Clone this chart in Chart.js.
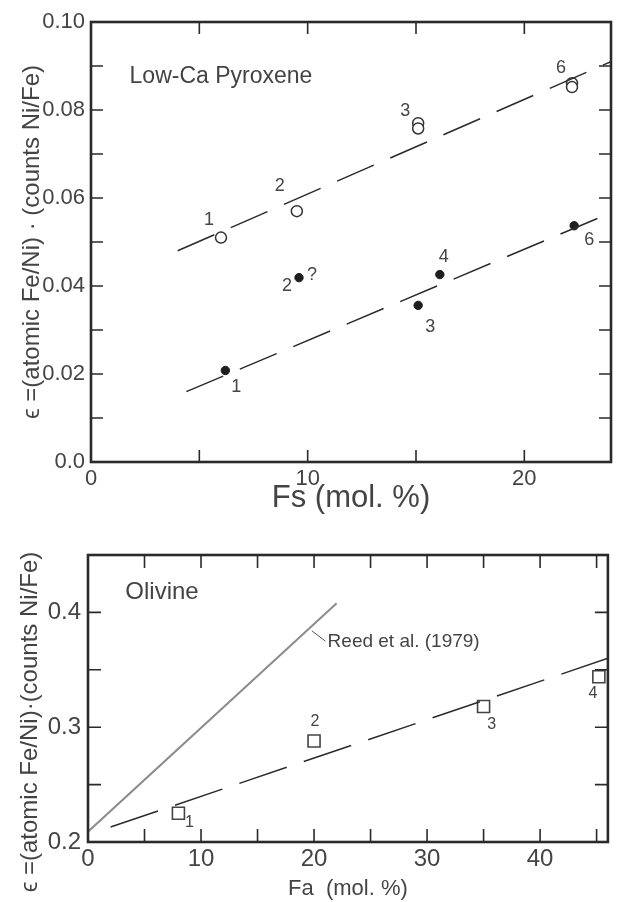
<!DOCTYPE html>
<html>
<head>
<meta charset="utf-8">
<script src="https://cdn.jsdelivr.net/npm/chart.js@4"></script>
<style>
  html, body { margin: 0; padding: 0; background: #fff; }
  #wrap { position: relative; width: 618px; height: 902px; }
  #c1 { position: absolute; left: 0; top: 0; }
  #c2 { position: absolute; left: 0; top: 530px; }
</style>
</head>
<body>
<div id="wrap">
  <canvas id="c1" width="618" height="530"></canvas>
  <canvas id="c2" width="618" height="372"></canvas>
</div>
<script>
// --- Low-Ca pyroxene (top panel) ---
var fsOpen = [6.0, 9.5, 15.1, 15.1, 22.2, 22.2];
var epsOpen = [0.051, 0.057, 0.077, 0.0758, 0.0861, 0.0852];
var openLabels = [['1'], ['2'], ['3'], [], ['6'], []];
var fsFilled = [6.2, 9.6, 15.1, 16.1, 22.3];
var epsFilled = [0.0208, 0.0419, 0.0356, 0.0426, 0.0537];
var filledLabels = [['1'], ['2', '?'], ['3'], ['4'], ['6']];
var upperFitFs = [4.0, 24];
var upperFitEps = [0.048, 0.091];
var lowerFitFs = [4.4, 23.5];
var lowerFitEps = [0.016, 0.0556];
var fsTickValues = [0, 5, 10, 15, 20];
var fsTickLabels = ['0', '', '10', '', '20'];
var pyxTickValues = [0, 0.01, 0.02, 0.03, 0.04, 0.05, 0.06, 0.07, 0.08, 0.09, 0.10];
var pyxTickLabels = ['0.0', '', '0.02', '', '0.04', '', '0.06', '', '0.08', '', '0.10'];

// --- Olivine (bottom panel) ---
var faSquares = [8, 20, 35, 45.2];
var epsSquares = [0.225, 0.288, 0.318, 0.344];
var squareLabels = [['1'], ['2'], ['3'], ['4']];
var reedFa = [0, 22];
var reedEps = [0.209, 0.408];
var olFitFa = [2, 46];
var olFitEps = [0.213, 0.36];
var faTickValues = [0, 5, 10, 15, 20, 25, 30, 35, 40, 45];
var faTickLabels = ['0', '', '10', '', '20', '', '30', '', '40', ''];
var olTickValues = [0.2, 0.25, 0.3, 0.35, 0.4];
var olTickLabels = ['0.2', '', '0.3', '', '0.4'];

var FAMILY = "'Liberation Sans', Arial, sans-serif";
var INK = '#444';

function xy(xs, ys) {
  return xs.map(function (x, i) { return { x: x, y: ys[i] }; });
}

// inward ticks on all four sides plus the frame
var frameTicks = {
  id: 'frameTicks',
  afterDraw: function (chart, args, opts) {
    var ctx = chart.ctx, a = chart.chartArea, sx = chart.scales.x, sy = chart.scales.y;
    var len = opts.len || 12;
    ctx.save();
    ctx.strokeStyle = '#2a2a2a';
    ctx.lineWidth = 1.6;
    ctx.beginPath();
    sx.ticks.forEach(function (t) {
      if (t.value <= sx.min + 1e-9 || t.value >= sx.max - 1e-9) return;
      var px = sx.getPixelForValue(t.value);
      ctx.moveTo(px, a.bottom); ctx.lineTo(px, a.bottom - len);
      ctx.moveTo(px, a.top); ctx.lineTo(px, a.top + len);
    });
    sy.ticks.forEach(function (t) {
      if (t.value <= sy.min + 1e-9 || t.value >= sy.max - 1e-9) return;
      var py = sy.getPixelForValue(t.value);
      ctx.moveTo(a.left, py); ctx.lineTo(a.left + len, py);
      ctx.moveTo(a.right, py); ctx.lineTo(a.right - len, py);
    });
    ctx.stroke();
    ctx.lineWidth = 2.6;
    ctx.strokeRect(a.left, a.top, a.right - a.left, a.bottom - a.top);
    ctx.restore();
  }
};

// numbers written next to the data points
var pointText = {
  id: 'pointText',
  afterDatasetsDraw: function (chart) {
    var ctx = chart.ctx;
    chart.data.datasets.forEach(function (ds, i) {
      if (!ds.pointText) return;
      var meta = chart.getDatasetMeta(i);
      ctx.save();
      ctx.font = ds.pointTextFont;
      ctx.fillStyle = INK;
      ctx.textAlign = 'center';
      ctx.textBaseline = 'middle';
      meta.data.forEach(function (el, j) {
        (ds.pointText[j] || []).forEach(function (txt, k) {
          var off = ds.pointTextOffsets[j][k];
          ctx.fillText(txt, el.x + off[0], el.y + off[1]);
        });
      });
      ctx.restore();
    });
  }
};

// free text placed in data coordinates, plus optional leader line / side title
var notes = {
  id: 'notes',
  afterDraw: function (chart, args, opts) {
    var ctx = chart.ctx, sx = chart.scales.x, sy = chart.scales.y;
    ctx.save();
    ctx.fillStyle = INK;
    ctx.textBaseline = 'middle';
    (opts.items || []).forEach(function (n) {
      ctx.font = n.font;
      ctx.textAlign = 'left';
      ctx.fillText(n.text, sx.getPixelForValue(n.x), sy.getPixelForValue(n.y));
    });
    (opts.leaders || []).forEach(function (l) {
      ctx.strokeStyle = '#555';
      ctx.lineWidth = 1;
      ctx.beginPath();
      ctx.moveTo(sx.getPixelForValue(l[0]), sy.getPixelForValue(l[1]));
      ctx.lineTo(sx.getPixelForValue(l[2]), sy.getPixelForValue(l[3]));
      ctx.stroke();
    });
    if (opts.sideTitle) {
      var s = opts.sideTitle;
      ctx.translate(s.cx, s.cy);
      ctx.rotate(-Math.PI / 2);
      ctx.font = s.font;
      ctx.textAlign = 'center';
      ctx.fillText(s.text, 0, 0);
    }
    ctx.restore();
  }
};

function tickFont(size) { return { family: FAMILY, size: size }; }

// ---------- top chart ----------
new Chart(document.getElementById('c1').getContext('2d'), {
  type: 'scatter',
  data: {
    datasets: [
      {
        data: xy(upperFitFs, upperFitEps), showLine: true, pointRadius: 0,
        borderColor: '#2a2a2a', borderWidth: 1.5, borderDash: [40, 18]
      },
      {
        data: xy(lowerFitFs, lowerFitEps), showLine: true, pointRadius: 0,
        borderColor: '#2a2a2a', borderWidth: 1.5, borderDash: [40, 18]
      },
      {
        data: xy(fsOpen, epsOpen), pointStyle: 'circle', pointRadius: 5.5,
        backgroundColor: '#fff', borderColor: '#333', borderWidth: 1.5,
        pointText: openLabels, pointTextFont: '18px ' + FAMILY,
        pointTextOffsets: [[[-12, -18]], [[-17, -25]], [[-13, -12]], [], [[-11, -15]], []]
      },
      {
        data: xy(fsFilled, epsFilled), pointStyle: 'circle', pointRadius: 4.2,
        backgroundColor: '#1e1e1e', borderColor: '#1e1e1e', borderWidth: 1,
        pointText: filledLabels, pointTextFont: '18px ' + FAMILY,
        pointTextOffsets: [[[11, 17]], [[-12, 8], [13, -3]], [[12, 22]], [[4, -18]], [[15, 14]]]
      }
    ]
  },
  options: {
    responsive: false,
    animation: false,
    layout: { padding: { top: 22, right: 2, left: 0, bottom: 0 } },
    scales: {
      x: {
        type: 'linear', min: 0, max: 24,
        afterBuildTicks: function (s) { s.ticks = fsTickValues.map(function (v) { return { value: v }; }); },
        afterFit: function (s) { s.height = 68; },
        grid: { display: false, drawTicks: false },
        border: { display: false },
        ticks: {
          autoSkip: false, maxRotation: 0, padding: 4, color: INK, font: tickFont(22),
          callback: function (v, i) { return fsTickLabels[i]; }
        },
        title: {
          display: true, text: 'Fs (mol. %)', color: INK,
          font: { family: FAMILY, size: 31 }, padding: { top: 0, bottom: 13 }
        }
      },
      y: {
        type: 'linear', min: 0, max: 0.1,
        afterBuildTicks: function (s) { s.ticks = pyxTickValues.map(function (v) { return { value: v }; }); },
        afterFit: function (s) { s.width = 91; },
        grid: { display: false, drawTicks: false },
        border: { display: false },
        ticks: {
          autoSkip: false, padding: 6, color: INK, font: tickFont(22),
          callback: function (v, i) { return pyxTickLabels[i]; }
        },
        title: {
          display: true, text: 'ϵ =(atomic Fe/Ni) · (counts Ni/Fe)', color: INK,
          font: { family: FAMILY, size: 24 }, padding: { top: 18, bottom: 0 }
        }
      }
    },
    plugins: {
      legend: { display: false },
      tooltip: { enabled: false },
      frameTicks: { len: 12 },
      notes: {
        items: [{ text: 'Low-Ca Pyroxene', x: 1.78, y: 0.0875, font: '23px ' + FAMILY }]
      }
    }
  },
  plugins: [frameTicks, pointText, notes]
});

// ---------- bottom chart ----------
new Chart(document.getElementById('c2').getContext('2d'), {
  type: 'scatter',
  data: {
    datasets: [
      {
        data: xy(reedFa, reedEps), showLine: true, pointRadius: 0,
        borderColor: '#8c8c8c', borderWidth: 2
      },
      {
        data: xy(olFitFa, olFitEps), showLine: true, pointRadius: 0,
        borderColor: '#2a2a2a', borderWidth: 1.5, borderDash: [50, 18]
      },
      {
        data: xy(faSquares, epsSquares), pointStyle: 'rect', pointRadius: 8.5,
        backgroundColor: 'rgba(255,255,255,0)', borderColor: '#444', borderWidth: 1.6,
        pointText: squareLabels, pointTextFont: '16px ' + FAMILY,
        pointTextOffsets: [[[11, 9]], [[1, -19]], [[8, 18]], [[-6, 17]]]
      }
    ]
  },
  options: {
    responsive: false,
    animation: false,
    layout: { padding: { top: 25, right: 3, left: 0, bottom: 0 } },
    scales: {
      x: {
        type: 'linear', min: 0, max: 46,
        afterBuildTicks: function (s) { s.ticks = faTickValues.map(function (v) { return { value: v }; }); },
        afterFit: function (s) { s.height = 60; },
        grid: { display: false, drawTicks: false },
        border: { display: false },
        ticks: {
          autoSkip: false, maxRotation: 0, padding: 3, color: INK, font: tickFont(24),
          callback: function (v, i) { return faTickLabels[i]; }
        },
        title: {
          display: true, text: 'Fa  (mol. %)', color: INK,
          font: { family: FAMILY, size: 22 }, padding: { top: 0, bottom: 0 }
        }
      },
      y: {
        type: 'linear', min: 0.2, max: 0.45,
        afterBuildTicks: function (s) { s.ticks = olTickValues.map(function (v) { return { value: v }; }); },
        afterFit: function (s) { s.width = 88; },
        grid: { display: false, drawTicks: false },
        border: { display: false },
        ticks: {
          autoSkip: false, padding: 7, color: INK, font: tickFont(24),
          callback: function (v, i) { return olTickLabels[i]; }
        }
      }
    },
    plugins: {
      legend: { display: false },
      tooltip: { enabled: false },
      frameTicks: { len: 13 },
      notes: {
        items: [
          { text: 'Olivine', x: 3.3, y: 0.4177, font: '24px ' + FAMILY },
          { text: 'Reed et al. (1979)', x: 21.2, y: 0.374, font: '19px ' + FAMILY }
        ],
        leaders: [[19.8, 0.384, 21.0, 0.375]],
        sideTitle: { text: 'ϵ =(atomic Fe/Ni)·(counts Ni/Fe)', cx: 30, cy: 192, font: '24px ' + FAMILY }
      }
    }
  },
  plugins: [frameTicks, pointText, notes]
});
</script>
</body>
</html>
